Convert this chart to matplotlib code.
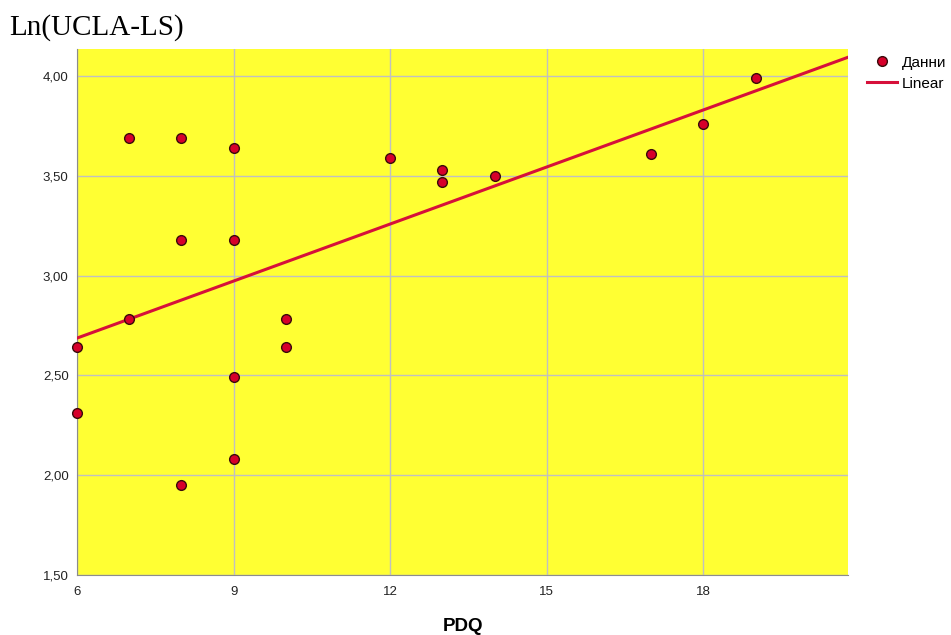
import numpy as np
import matplotlib
matplotlib.use("Agg")
from matplotlib import pyplot as plt

# PDQ scores and ln(UCLA-LS) values
pdq = [6, 6, 7, 7, 8, 8, 8, 9, 9, 9, 9, 10, 10, 12, 13, 13, 14, 17, 18, 19]
ln_ucla = [2.64, 2.31, 3.69, 2.78, 3.69, 3.18, 1.95, 3.64, 3.18, 2.49, 2.08,
           2.78, 2.64, 3.59, 3.53, 3.47, 3.50, 3.61, 3.76, 3.99]
xticks = [6, 9, 12, 15, 18]
yticks = [1.5, 2.0, 2.5, 3.0, 3.5, 4.0]

fig = plt.figure(figsize=(9.51, 6.35), dpi=100)
ax = fig.add_axes([0.081, 0.0945, 0.8107, 0.8283])
ax.set_facecolor("#FFFF33")

ax.set_xlim(6, 20.77)
ax.set_ylim(1.5, 4.135)
ax.set_xticks(xticks)
ax.set_yticks(yticks)
ax.set_yticklabels([("%.2f" % v).replace(".", ",") for v in yticks])
ax.grid(True, color="#C0C0C0", linewidth=1)
ax.set_axisbelow(True)
for s in ["top", "right"]:
    ax.spines[s].set_visible(False)
for s in ["left", "bottom"]:
    ax.spines[s].set_color("#8C8C8C")
ax.tick_params(length=0, labelsize=9.5, colors="#222222")
ax.tick_params(axis="x", pad=8)
ax.tick_params(axis="y", pad=6)
for lab in ax.get_xticklabels() + ax.get_yticklabels():
    lab.set_family("Liberation Sans")

# linear fit line
coef = np.polyfit(pdq, ln_ucla, 1)
xs = np.array([6, 20.77])
line, = ax.plot(xs, np.polyval(coef, xs), color="#D6103A", linewidth=2.2, zorder=3)
pts, = ax.plot(pdq, ln_ucla, "o", markersize=7, markerfacecolor="#D6002A",
               markeredgecolor="#3A0A0A", markeredgewidth=1, zorder=4, clip_on=False)

fig.text(0.01, 0.957, "Ln(UCLA-LS)", family="Liberation Serif", fontsize=21, va="center")
fig.text(0.487, 0.0126, "PDQ", family="Liberation Sans", fontsize=13.5, ha="center",
         va="center", fontweight="bold")

fig.legend([pts, line], ["Данни", "Linear"], loc="upper left",
           bbox_to_anchor=(0.905, 0.922), frameon=False, handlelength=2.0,
           handletextpad=0.3, labelspacing=0.45, borderaxespad=0,
           prop={"family": "Liberation Sans", "size": 11})

fig.savefig("out.png", dpi=100)
